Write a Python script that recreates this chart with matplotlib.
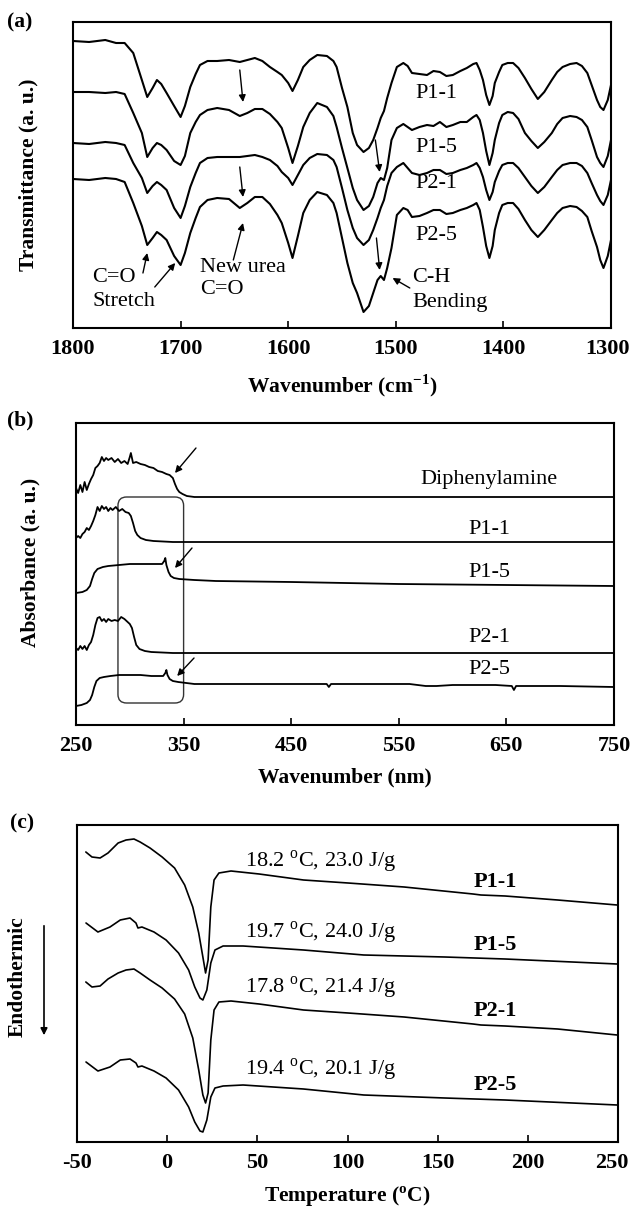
import matplotlib
matplotlib.use("Agg")
import matplotlib.pyplot as plt
from matplotlib.patches import FancyBboxPatch
from matplotlib.transforms import ScaledTranslation

plt.rcParams['font.family'] = 'Liberation Serif'
plt.rcParams['mathtext.fontset'] = 'custom'
plt.rcParams['mathtext.rm'] = 'Liberation Serif'
plt.rcParams['mathtext.bf'] = 'Liberation Serif:bold'
plt.rcParams['axes.unicode_minus'] = False

# ---------------- (a) FTIR ----------------
ir_wn = [1800, 1785, 1770, 1760, 1752, 1744, 1736, 1731, 1726, 1722, 1718, 1713, 1706, 1700,
         1696, 1691, 1686, 1682, 1675, 1666, 1655, 1645, 1638, 1631, 1624, 1617, 1610, 1606,
         1600, 1596, 1591, 1586, 1580, 1573, 1564, 1558, 1555, 1550, 1545, 1540, 1536, 1530,
         1525, 1521, 1517, 1514, 1511, 1508, 1504, 1499, 1493, 1489, 1485, 1478, 1471, 1465,
         1459, 1453, 1447, 1440, 1434, 1428, 1425, 1422, 1419, 1416, 1413, 1410, 1408, 1404,
         1401, 1396, 1391, 1386, 1380, 1374, 1368, 1362, 1355, 1350, 1345, 1338, 1332, 1327,
         1322, 1318, 1313, 1310, 1307, 1303, 1300]
ir_p11 = [287, 286, 288, 285, 285, 275, 248, 231, 240, 248, 244, 235, 222, 211,
          222, 241, 254, 263, 267, 267, 268, 266, 268, 270, 267, 261, 256, 253,
          245, 237, 248, 261, 268, 273, 272, 267, 261, 240, 221, 195, 183, 176,
          180, 188, 200, 210, 217, 230, 245, 261, 265, 262, 255, 254, 253, 257,
          256, 252, 253, 257, 260, 264, 265, 258, 248, 233, 223, 232, 245, 256,
          263, 265, 265, 260, 250, 239, 229, 236, 248, 256, 261, 264, 265, 262,
          255, 243, 228, 221, 218, 228, 243]
ir_p15 = [236, 236, 235, 236, 234, 215, 195, 171, 180, 185, 183, 178, 167, 163,
          172, 195, 206, 213, 218, 220, 218, 212, 215, 219, 219, 214, 206, 200,
          180, 165, 182, 201, 215, 225, 221, 212, 201, 180, 160, 140, 128, 118,
          122, 131, 145, 150, 148, 160, 188, 200, 204, 201, 198, 201, 203, 202,
          206, 201, 203, 206, 206, 211, 213, 208, 195, 177, 163, 175, 188, 205,
          213, 216, 215, 209, 195, 187, 180, 186, 195, 204, 210, 212, 211, 208,
          201, 188, 171, 165, 161, 172, 188]
ir_p21 = [185, 184, 186, 185, 183, 165, 150, 135, 142, 146, 143, 138, 120, 110,
          122, 141, 155, 165, 170, 171, 171, 171, 172, 173, 171, 168, 162, 156,
          150, 143, 153, 163, 170, 174, 173, 168, 161, 140, 118, 100, 90, 83,
          88, 98, 110, 120, 128, 142, 155, 161, 165, 160, 155, 153, 155, 158,
          158, 154, 155, 158, 160, 163, 165, 160, 151, 138, 128, 136, 146, 157,
          163, 165, 165, 160, 151, 142, 135, 141, 151, 158, 163, 165, 165, 162,
          155, 145, 133, 127, 123, 133, 148]
ir_p25 = [149, 148, 150, 149, 146, 125, 102, 83, 90, 96, 93, 88, 72, 63,
          75, 95, 110, 121, 128, 130, 129, 120, 125, 131, 131, 124, 113, 105,
          85, 70, 92, 115, 128, 136, 133, 125, 115, 90, 65, 45, 35, 16,
          22, 35, 48, 52, 48, 60, 80, 113, 120, 118, 111, 112, 115, 118,
          118, 114, 115, 118, 120, 123, 125, 118, 101, 82, 70, 82, 98, 115,
          123, 125, 125, 119, 108, 98, 91, 98, 108, 115, 120, 122, 121, 117,
          111, 97, 81, 68, 60, 72, 88]
ir_names = ["P1-1", "P1-5", "P2-1", "P2-5"]
ir_name_y = [235, 181, 145, 93]

# ---------------- (b) UV-vis ----------------
dpa_nm = [250, 252, 254, 256, 258, 260, 262, 264, 266, 268, 270, 272, 274, 276, 278, 280,
          283, 286, 289, 292, 295, 298, 300, 301, 303, 306, 310, 314, 318, 322, 326, 330,
          334, 337, 340, 342, 344, 346, 349, 353, 360, 380, 450, 550, 650, 750]
dpa_abs = [237, 232, 240, 233, 243, 235, 241, 246, 250, 257, 259, 262, 268, 264, 267, 265,
           267, 263, 266, 262, 264, 261, 268, 272, 262, 263, 261, 260, 258, 257, 254, 253,
           251, 250, 247, 241, 236, 233, 231, 229, 228, 228, 228, 228, 228, 228]
uv11_nm = [250, 252, 254, 256, 258, 260, 262, 264, 266, 268, 270, 272, 274, 276, 278, 280,
           282, 284, 287, 290, 293, 296, 299, 301, 303, 305, 307, 310, 315, 322, 340, 400, 750]
uv11_abs = [187, 189, 187, 191, 193, 197, 195, 199, 204, 210, 218, 214, 219, 216, 218, 214,
            217, 215, 218, 214, 216, 213, 212, 209, 202, 194, 190, 187, 185, 184, 183, 183, 183]
uv15_nm = [250, 256, 260, 263, 265, 267, 270, 275, 280, 290, 300, 310, 320, 330, 332, 333,
           334, 336, 338, 341, 346, 360, 380, 450, 550, 650, 750]
uv15_abs = [132, 133, 135, 139, 146, 152, 156, 158, 159, 160, 161, 161, 161, 161, 164, 167,
            160, 153, 149, 147, 146, 145, 144, 143, 141, 140, 139]
uv21_nm = [250, 252, 254, 256, 258, 260, 262, 264, 266, 268, 270, 272, 274, 276, 278, 280,
           283, 286, 289, 292, 295, 298, 300, 302, 304, 306, 309, 314, 320, 340, 750]
uv21_abs = [77, 75, 79, 76, 79, 75, 80, 83, 90, 100, 107, 108, 104, 106, 103, 106,
            104, 105, 104, 108, 106, 103, 101, 97, 88, 80, 76, 74, 73, 72, 72]
uv25_nm = [250, 255, 260, 263, 265, 267, 269, 272, 276, 282, 290, 300, 310, 320, 331, 333,
           334, 335, 337, 340, 345, 360, 400, 483, 485, 487, 520, 560, 575, 585, 600, 640,
           655, 657, 659, 700, 750]
uv25_abs = [19, 20, 22, 25, 30, 38, 44, 47, 48, 49, 50, 50, 50, 49, 49, 52,
            55, 50, 46, 44, 43, 41, 41, 41, 38, 41, 41, 41, 39, 39, 40, 40,
            39, 35, 39, 39, 38]
uv_names = ["Diphenylamine", "P1-1", "P1-5", "P2-1", "P2-5"]
uv_name_y = [245, 195, 152, 87, 55]

# ---------------- (c) DSC ----------------
t_11 = [-45.1, -41.7, -37.2, -32.8, -27.2, -22.8, -18.4, -15, -9.5, -2.8, 4.1, 9.7, 14.2,
        17.5, 19.8, 21.3, 22.7, 24.2, 26, 28.7, 35.4, 51, 75.6, 100.3, 131.4, 169.6, 174,
        187.4, 216.5, 249.5]
dsc_11 = [290, 285, 284, 289, 299, 302, 303, 300, 294, 285, 274, 257, 235,
          209, 185, 169, 182, 235, 262, 269, 271, 268, 262, 259, 255, 248, 247,
          246, 242, 237]
t_15 = [-45, -38.4, -31.7, -26, -20.6, -17.3, -16.2, -14, -7.3, -0.6, 6.3, 11.9, 15.3,
        18.2, 19.8, 22, 24.2, 26.5, 31, 42.1, 75.6, 109, 153.9, 187.4, 249.5]
dsc_15 = [219, 210, 215, 222, 224, 219, 214, 215, 210, 202, 189, 172, 155,
          144, 142, 152, 179, 192, 196, 196, 192, 187, 185, 183, 178]
t_21 = t_11
dsc_21 = [160, 155, 156, 163, 169, 172, 173, 169, 162, 154, 143, 128, 104,
          72, 47, 39, 49, 102, 132, 140, 141, 138, 132, 129, 125, 118, 117,
          116, 113, 107]
t_25 = t_15
dsc_25 = [80, 71, 75, 82, 83, 79, 75, 76, 71, 64, 52, 35, 20,
          11, 10, 22, 45, 54, 56, 57, 53, 47, 44, 42, 37]
dsc_names = ["P1-1", "P1-5", "P2-1", "P2-5"]
dsc_name_y = [260, 197, 131, 57]
dsc_notes = [r"18.2 $^{\mathregular{o}}$C, 23.0 J/g", r"19.7 $^{\mathregular{o}}$C, 24.0 J/g",
             r"17.8 $^{\mathregular{o}}$C, 21.4 J/g", r"19.4 $^{\mathregular{o}}$C, 20.1 J/g"]
dsc_note_y = [280, 209, 154, 72]

fig = plt.figure(figsize=(6.32, 12.17), dpi=100)
W, H = 632.0, 1217.0
FS = 16


def make_ax(l, t, r, b):
    ax = fig.add_axes([l / W, 1 - b / H, (r - l) / W, (b - t) / H])
    for s in ax.spines.values():
        s.set_linewidth(1.5)
    ax.tick_params(axis='x', direction='in', length=5, width=1.2, pad=8,
                   labelsize=16, top=False)
    ax.tick_params(axis='y', left=False, labelleft=False)
    return ax


def bold_ticks(ax, ticks, labels, last_shift=0):
    ax.set_xticks(ticks)
    ax.set_xticklabels(labels, fontweight='bold')
    if last_shift:
        # keep the right-most label inside the picture
        lbl = ax.get_xticklabels()[-1]
        lbl.set_transform(lbl.get_transform() + ScaledTranslation(-last_shift / 100, 0, fig.dpi_scale_trans))


arrow = dict(arrowstyle='-|>', color='k', lw=1.0, mutation_scale=10, shrinkA=0, shrinkB=0)
line_kw = dict(color='k', solid_joinstyle='round', solid_capstyle='round')

# panel a
ax1 = make_ax(73, 22, 611, 328)
for y in [ir_p11, ir_p15, ir_p21, ir_p25]:
    ax1.plot(ir_wn, y, lw=1.5, **line_kw)
ax1.set_xlim(1800, 1300)
ax1.set_ylim(0, 306)
bold_ticks(ax1, [1800, 1700, 1600, 1500, 1400, 1300], ["1800", "1700", "1600", "1500", "1400", "1300"], 3)
for n, y in zip(ir_names, ir_name_y):
    ax1.text(1462, y, n, fontsize=FS, ha='center', va='center')
ax1.text(1782, 51, "C=O", fontsize=FS, ha='left', va='center')
ax1.text(1782, 26, "Stretch", fontsize=FS, ha='left', va='center')
ax1.text(1682, 61, "New urea", fontsize=FS, ha='left', va='center')
ax1.text(1682, 38, "C=O", fontsize=FS, ha='left', va='center')
ax1.text(1485, 51, "C-H", fontsize=FS, ha='left', va='center')
ax1.text(1485, 26, "Bending", fontsize=FS, ha='left', va='center')
for (x0, y0, x1, y1) in [(1735, 55, 1731, 75), (1724, 41, 1705, 65), (1651, 68, 1642, 105),
                         (1645, 258, 1642, 226), (1645, 161, 1642, 131), (1519, 188, 1515, 156),
                         (1518, 90, 1515, 58), (1487, 40, 1503, 50)]:
    ax1.annotate("", xy=(x1, y1), xytext=(x0, y0), arrowprops=arrow)
ax1.set_xlabel(r"Wavenumber (cm$^{\mathbf{-1}}$)", fontsize=15.5, fontweight='bold')
ax1.xaxis.set_label_coords(0.5, -0.145)
ax1.set_ylabel("Transmittance (a. u.)", fontsize=15.5, fontweight='bold', va='center')
ax1.yaxis.set_label_coords(-0.082, 0.5)

# panel b
ax2 = make_ax(76, 423, 614, 725)
for xs, ys in [(dpa_nm, dpa_abs), (uv11_nm, uv11_abs), (uv15_nm, uv15_abs),
               (uv21_nm, uv21_abs), (uv25_nm, uv25_abs)]:
    ax2.plot(xs, ys, lw=1.3, **line_kw)
ax2.set_xlim(250, 750)
ax2.set_ylim(0, 302)
bold_ticks(ax2, [250, 350, 450, 550, 650, 750], ["250", "350", "450", "550", "650", "750"])
for n, y in zip(uv_names, uv_name_y):
    ax2.text(634, y, n, fontsize=FS, ha='center', va='center')
box = FancyBboxPatch((289, 22), 61, 206, boxstyle="round,pad=0,rounding_size=8",
                     mutation_aspect=1.076, fill=False, ec='#333333', lw=1.0)
ax2.add_patch(box)
for (x0, y0, x1, y1) in [(361.5, 277, 342, 252), (357.8, 177, 342, 157), (359.7, 67, 344, 49)]:
    ax2.annotate("", xy=(x1, y1), xytext=(x0, y0), arrowprops=arrow)
ax2.set_xlabel("Wavenumber (nm)", fontsize=15.5, fontweight='bold')
ax2.xaxis.set_label_coords(0.5, -0.14)
ax2.set_ylabel("Absorbance (a. u.)", fontsize=15.5, fontweight='bold', va='center')
ax2.yaxis.set_label_coords(-0.085, 0.54)

# panel c
ax3 = make_ax(77, 825, 618, 1142)
for xs, ys in [(t_11, dsc_11), (t_15, dsc_15), (t_21, dsc_21), (t_25, dsc_25)]:
    ax3.plot(xs, ys, lw=1.2, **line_kw)
ax3.set_xlim(-50, 250)
ax3.set_ylim(0, 317)
bold_ticks(ax3, [-50, 0, 50, 100, 150, 200, 250], ["-50", "0", "50", "100", "150", "200", "250"], 6)
for n, y in zip(dsc_names, dsc_name_y):
    ax3.text(182, y, n, fontsize=FS, fontweight='bold', ha='center', va='center')
for s, y in zip(dsc_notes, dsc_note_y):
    ax3.text(43, y, s, fontsize=FS, ha='left', va='center')
ax3.set_xlabel(r"Temperature ($^{\mathbf{o}}$C)", fontsize=15.5, fontweight='bold')
ax3.xaxis.set_label_coords(0.5, -0.135)

fig.text(18 / W, 1 - 977 / H, "Endothermic", rotation=90, fontsize=15.5, fontweight='bold',
         ha='center', va='center')
fig.add_artist(matplotlib.patches.FancyArrowPatch((44 / W, 1 - 923 / H), (44 / W, 1 - 1038 / H),
               transform=fig.transFigure, arrowstyle='-|>', mutation_scale=10, color='k', lw=1.2))

for lab, x, y in [("(a)", 20, 22), ("(b)", 20, 420), ("(c)", 22, 823)]:
    fig.text(x / W, 1 - y / H, lab, fontsize=15.5, fontweight='bold', ha='center', va='center')

fig.savefig("out.png", dpi=100)
